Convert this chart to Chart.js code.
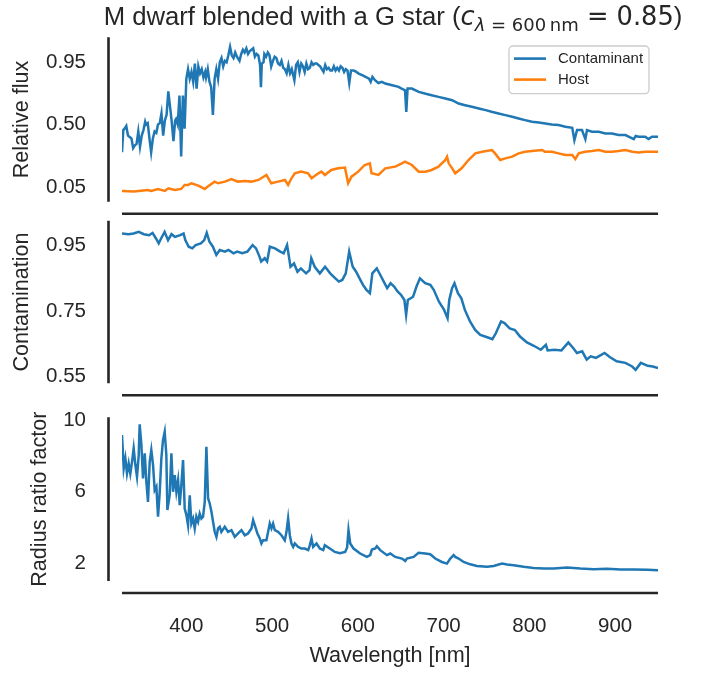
<!DOCTYPE html>
<html><head><meta charset="utf-8">
<script src="https://cdn.jsdelivr.net/npm/chart.js@4"></script>
<style>
html,body{margin:0;padding:0;background:#fff;}
#wrap{position:relative;width:708px;height:675px;}
canvas{position:absolute;left:0;top:0;}
</style></head><body>
<div id="wrap">
<canvas id="c1" width="708" height="675"></canvas>
<canvas id="c2" width="708" height="675"></canvas>
<canvas id="c3" width="708" height="675"></canvas>
</div>
<script>
// ---- data (wavelength [nm], value) ----
const xTicks = [400, 500, 600, 700, 800, 900];
const fluxTicks = [0.05, 0.50, 0.95];
const contamTicks = [0.55, 0.75, 0.95];
const radiusTicks = [2, 6, 10];
const seriesLabels = ['Contaminant', 'Host'];

const contaminantFlux = [[325,0.30],[326.5,0.46],[328,0.47],[330,0.49],[332,0.42],[334,0.41],[336,0.40],[338,0.33],[340,0.35],[342,0.36],[344,0.45],[346,0.34],[348,0.42],[350,0.46],[352,0.52],[353,0.50],[355,0.51],[357,0.40],[359,0.30],[361,0.40],[363,0.45],[365,0.44],[367,0.50],[369,0.51],[371,0.58],[373,0.42],[375,0.53],[377,0.57],[379,0.74],[381,0.63],[383,0.52],[385,0.38],[387,0.53],[388,0.54],[390,0.50],[392,0.71],[394,0.27],[396,0.71],[398,0.47],[400,0.83],[402,0.90],[404,0.83],[406,0.88],[408,0.81],[410,0.94],[412,0.76],[414,0.92],[416,0.87],[418,0.90],[420,0.84],[422,0.88],[423,0.84],[425,0.90],[427,0.81],[429,0.77],[431,0.57],[433,0.83],[435,0.90],[437,0.83],[439,0.95],[441,0.98],[443,0.92],[445,0.96],[447,0.95],[449,1.00],[451,1.06],[453,1.00],[455,0.98],[457,1.02],[459,0.99],[462,0.96],[464,1.01],[466,1.04],[468,1.02],[470,1.05],[472,1.01],[474,1.03],[476,1.04],[478,1.05],[480,0.99],[482,1.01],[484,1.00],[486,0.93],[487,0.77],[488,0.94],[490,0.95],[491,1.01],[493,0.99],[495,1.02],[497,1.00],[499,0.92],[501,0.96],[503,0.99],[505,0.98],[507,0.94],[509,0.93],[511,0.96],[513,0.91],[515,0.90],[517,0.87],[519,0.93],[521,0.87],[523,0.90],[526,0.82],[528,0.93],[530,0.95],[532,0.88],[534,0.94],[536,0.92],[538,0.88],[540,0.94],[542,0.90],[544,0.91],[546,0.95],[548,0.93],[550,0.94],[552,0.94],[554,0.93],[556,0.92],[558,0.90],[560,0.88],[562,0.93],[564,0.90],[566,0.91],[568,0.89],[570,0.89],[572,0.92],[574,0.89],[576,0.91],[578,0.89],[580,0.92],[582,0.91],[584,0.88],[586,0.90],[588,0.89],[590,0.80],[592,0.89],[595,0.89],[597,0.885],[601,0.868],[605,0.856],[609,0.844],[613,0.832],[615,0.808],[617,0.844],[620,0.820],[624,0.80],[628,0.808],[632,0.796],[640,0.784],[647.5,0.772],[651,0.76],[655,0.748],[656.5,0.592],[658,0.76],[663,0.76],[671,0.736],[678,0.724],[686,0.712],[694,0.70],[702,0.688],[710,0.676],[717.5,0.652],[725,0.64],[733,0.628],[741,0.616],[749,0.604],[756,0.592],[764,0.58],[772,0.568],[780,0.556],[787.5,0.544],[795,0.532],[803,0.52],[811,0.515],[818.6,0.508],[826,0.501],[834,0.496],[842,0.484],[850,0.477],[852.5,0.388],[855.6,0.46],[861.4,0.46],[865.3,0.395],[867.2,0.46],[873,0.448],[881,0.448],[888.6,0.436],[896.4,0.436],[904,0.424],[912,0.424],[921.7,0.395],[924,0.418],[927.5,0.412],[935,0.412],[939,0.395],[943,0.412],[950,0.412]];

const hostFlux = [[325,0.021],[339,0.016],[355,0.028],[359,0.021],[367,0.035],[375,0.021],[379,0.040],[386.5,0.028],[394,0.035],[398,0.064],[402,0.064],[406,0.076],[414,0.059],[421.5,0.035],[425,0.052],[433,0.088],[437,0.076],[445,0.088],[452.6,0.107],[460,0.088],[468,0.093],[476,0.088],[484,0.100],[493.4,0.136],[499,0.076],[507,0.088],[515,0.100],[518.7,0.064],[522.6,0.112],[526.5,0.148],[534,0.160],[542,0.148],[546,0.112],[554,0.148],[557.6,0.160],[561.5,0.136],[569,0.172],[577,0.184],[585,0.189],[588.7,0.076],[592.6,0.124],[600.4,0.160],[608,0.208],[614,0.22],[616,0.148],[624,0.136],[632,0.184],[643.6,0.196],[651.4,0.22],[655,0.232],[663,0.208],[671,0.16],[678.6,0.16],[686,0.172],[694,0.196],[702,0.244],[704,0.268],[706,0.22],[710,0.184],[713.6,0.148],[721,0.184],[729,0.244],[737,0.292],[745,0.304],[756.4,0.316],[760,0.292],[766,0.244],[772,0.256],[780,0.268],[787.5,0.292],[795,0.304],[803,0.309],[814.7,0.316],[818,0.304],[826.4,0.304],[834,0.292],[842,0.280],[850,0.280],[853.6,0.251],[857.5,0.292],[865,0.304],[873,0.309],[881,0.316],[888.6,0.304],[896.4,0.304],[904,0.309],[912,0.316],[920,0.304],[927.5,0.299],[935,0.304],[943,0.304],[950,0.304]];

const contamination = [[325,0.985],[332.4,0.983],[338.4,0.985],[344.5,0.990],[350.5,0.983],[356.5,0.980],[360.6,0.987],[364.6,0.970],[367.8,0.955],[370.6,0.970],[374.7,0.990],[378.7,0.965],[382.7,0.983],[386.7,0.975],[392.8,0.980],[396.8,0.985],[398.8,0.965],[402.8,0.945],[406.9,0.940],[410.9,0.950],[416.9,0.955],[420.9,0.965],[423.8,0.987],[427,0.960],[431,0.945],[435,0.920],[439,0.935],[445.1,0.930],[449.1,0.935],[455.1,0.925],[459.2,0.930],[465.2,0.925],[471.2,0.930],[477.3,0.950],[481.3,0.940],[485.3,0.915],[487.3,0.900],[491.4,0.910],[494.2,0.900],[497.4,0.945],[503.4,0.940],[509.5,0.930],[513.5,0.925],[517.5,0.950],[521.5,0.884],[525.6,0.894],[529.6,0.869],[533.6,0.879],[539.6,0.864],[543.7,0.874],[545.7,0.910],[549.7,0.884],[555.7,0.864],[561.8,0.884],[567.8,0.864],[573.8,0.849],[577.9,0.839],[581.9,0.844],[585.9,0.864],[589.9,0.930],[594,0.884],[598,0.869],[602,0.849],[606,0.829],[610,0.814],[614.1,0.804],[616.9,0.864],[622.1,0.879],[626.2,0.859],[630.2,0.839],[634.2,0.819],[638.2,0.834],[642.3,0.824],[646.3,0.809],[650.3,0.799],[654.3,0.783],[656.3,0.738],[658.3,0.783],[664.4,0.793],[668.4,0.824],[672.4,0.849],[678.5,0.834],[684.5,0.829],[688.5,0.814],[694.6,0.778],[700.6,0.753],[704.6,0.728],[706.6,0.783],[709.9,0.819],[712.7,0.834],[716.7,0.804],[720.7,0.788],[724.8,0.753],[730.8,0.718],[736.8,0.692],[742.8,0.677],[750.9,0.670],[756.9,0.664],[760.9,0.682],[767,0.718],[771,0.713],[777.1,0.697],[783.1,0.692],[789.1,0.672],[797.2,0.654],[805.2,0.644],[813.3,0.632],[819.3,0.647],[821.3,0.630],[829.4,0.632],[837.4,0.630],[845.5,0.654],[851.5,0.636],[855.5,0.622],[861.6,0.627],[866.8,0.602],[871.6,0.612],[877.7,0.607],[887.7,0.622],[893.7,0.610],[901.8,0.597],[911.9,0.592],[919.9,0.581],[923.9,0.571],[930,0.592],[938,0.583],[944,0.581],[950,0.576]];

const radiusFactor = [[325,9.16],[327,7.30],[328.9,7.86],[330.8,7.02],[332.8,7.58],[334.7,7.02],[336.7,7.67],[338.6,8.42],[340.6,7.49],[342.5,6.84],[344.5,8.05],[345.6,9.76],[347.6,8.61],[349.5,6.75],[351.5,8.14],[353.4,6.56],[355.3,5.44],[357.3,7.67],[359.2,8.33],[361.2,7.49],[363.1,6.09],[365.1,6.28],[367,4.61],[369,6.00],[370.9,7.86],[372.8,8.88],[374.8,9.35],[376.7,8.05],[377.9,4.98],[380.6,5.81],[382.6,8.14],[384.5,6.00],[386.5,6.93],[388.4,6.00],[390.4,6.65],[392.3,5.26],[394.2,6.37],[396.2,7.77],[398.1,5.07],[400.1,4.70],[402,4.14],[404,5.81],[405.9,4.23],[407.9,4.51],[409.8,3.96],[411.7,4.61],[413.7,4.33],[415.6,4.79],[417.6,4.51],[419.5,4.61],[421.5,5.44],[423.4,8.51],[425.4,5.63],[427.3,5.35],[429.3,4.89],[431.2,4.33],[433.1,3.77],[435.1,3.49],[437,3.96],[439,4.05],[440.9,3.77],[444.8,4.05],[448.7,3.77],[452.6,3.86],[454.5,3.68],[456.5,3.49],[460.4,3.68],[464.3,3.86],[468.2,3.58],[472,3.68],[475.9,3.96],[477.9,4.42],[479.8,4.14],[482.9,3.68],[485.7,3.40],[487.6,3.12],[489.6,3.30],[493.4,3.30],[495.4,3.77],[497.3,4.23],[499.3,3.96],[501.2,4.23],[503.2,3.86],[507,3.77],[510.9,3.58],[514.8,3.30],[516.8,3.77],[518.7,4.51],[520.7,3.58],[522.6,3.12],[524.6,2.93],[526.5,3.12],[530.4,2.93],[534.3,2.84],[538.2,2.84],[542.1,2.75],[544,3.02],[546,3.40],[547.9,2.93],[551.8,3.12],[555.7,2.84],[559.6,2.75],[561.5,3.02],[567.3,2.84],[573.2,2.65],[579,2.58],[585.2,2.65],[587.5,2.90],[589.1,3.86],[591.1,3.12],[595,2.84],[602.7,2.56],[610.5,2.37],[614.4,2.47],[616.4,2.78],[620.3,2.84],[622.2,2.97],[626.1,2.75],[633.9,2.47],[637.8,2.56],[643.6,2.37],[651.4,2.28],[655.3,2.15],[657.2,2.28],[665,2.37],[670.8,2.60],[678.6,2.56],[684.4,2.52],[690.3,2.28],[698,2.09],[703.9,2.00],[707.8,2.28],[711.7,2.47],[713.6,2.37],[717.5,2.28],[723.3,2.09],[731.1,1.96],[738.9,1.87],[750.6,1.82],[758.3,1.87],[768.1,2.00],[773.9,1.95],[781.7,1.91],[793.4,1.82],[805,1.76],[816.7,1.72],[828.4,1.72],[844,1.78],[859.5,1.72],[875,1.69],[890.6,1.71],[906.2,1.67],[921.7,1.67],[937.3,1.65],[950,1.63]];

// ---- styling ----
const BLUE = '#1f77b4', ORANGE = '#ff7f0e', INK = '#262626';
const FAM = '"Liberation Sans", Arial, Helvetica, sans-serif';
const TICK_SIZE = 20.5, LABEL_SIZE = 21.6, LINE_W = 2.5;

const toXY = arr => arr.map(p => ({x: p[0], y: p[1]}));

const spinePlugin = {
  id: 'spines',
  afterDraw(chart) {
    const {ctx, chartArea: a} = chart;
    ctx.save();
    ctx.strokeStyle = INK; ctx.lineWidth = 2.6;
    ctx.beginPath();
    ctx.moveTo(a.left - 13.5, a.top); ctx.lineTo(a.left - 13.5, a.bottom);
    ctx.moveTo(a.left, a.bottom + 12); ctx.lineTo(a.right, a.bottom + 12);
    ctx.stroke();
    ctx.restore();
  }
};

const legendPlugin = {
  id: 'boxLegend',
  afterDraw(chart) {
    const {ctx, chartArea: a} = chart;
    const x0 = a.right - 149, y0 = a.top + 8.7, w = 140, h = 47.6, r = 4;
    ctx.save();
    ctx.beginPath();
    ctx.moveTo(x0 + r, y0); ctx.lineTo(x0 + w - r, y0); ctx.arcTo(x0 + w, y0, x0 + w, y0 + r, r);
    ctx.lineTo(x0 + w, y0 + h - r); ctx.arcTo(x0 + w, y0 + h, x0 + w - r, y0 + h, r);
    ctx.lineTo(x0 + r, y0 + h); ctx.arcTo(x0, y0 + h, x0, y0 + h - r, r);
    ctx.lineTo(x0, y0 + r); ctx.arcTo(x0, y0, x0 + r, y0, r); ctx.closePath();
    ctx.fillStyle = 'rgba(255,255,255,0.8)'; ctx.fill();
    ctx.strokeStyle = '#cccccc'; ctx.lineWidth = 1.3; ctx.stroke();
    chart.data.datasets.forEach((ds, i) => {
      const y = y0 + 12.6 + i * 21;
      ctx.beginPath(); ctx.strokeStyle = ds.borderColor; ctx.lineWidth = 2.6;
      ctx.moveTo(x0 + 5, y); ctx.lineTo(x0 + 37, y); ctx.stroke();
      ctx.fillStyle = INK; ctx.font = '15px ' + FAM; ctx.textBaseline = 'middle'; ctx.textAlign = 'left';
      ctx.fillText(ds.label, x0 + 49, y + 0.5);
    });
    ctx.restore();
  }
};

const titlePlugin = {
  id: 'mathTitle',
  afterDraw(chart) {
    const {ctx, chartArea: a} = chart;
    const parts = [
      {t: 'M dwarf blended with a G star (', f: '25.7px ' + FAM, dy: 0},
      {t: 'c', f: 'oblique 25.7px "DejaVu Sans"', dy: 0},
      {t: 'λ', f: 'oblique 18px "DejaVu Sans"', dy: 5.5},
      {t: ' = 600\u2009nm', f: '18px "DejaVu Sans"', dy: 5.5},
      {t: ' = 0.85', f: '25.7px "DejaVu Sans"', dy: 0},
      {t: ')', f: '25.7px ' + FAM, dy: 0}
    ];
    ctx.save();
    let total = 0;
    parts.forEach(p => { ctx.font = p.f; p.w = ctx.measureText(p.t).width; total += p.w; });
    let x = (a.left + a.right) / 2 + 3 - total / 2;
    const base = 25;
    ctx.fillStyle = INK; ctx.textBaseline = 'alphabetic'; ctx.textAlign = 'left';
    parts.forEach(p => { ctx.font = p.f; ctx.fillText(p.t, x, base + p.dy); x += p.w; });
    ctx.restore();
  }
};

function makePanel(id, datasets, yMin, yMax, yTicks, yTitle, top, bottom, titlePad, showX, decimals, extra) {
  return new Chart(document.getElementById(id), {
    type: 'line',
    data: {datasets},
    options: {
      responsive: false, animation: false, devicePixelRatio: 1,
      layout: {padding: {left: 0, right: 50, top: top, bottom: showX ? 0 : 675 - bottom}},
      plugins: {legend: {display: false}, title: {display: false}, tooltip: {enabled: false}},
      elements: {point: {radius: 0}, line: {borderWidth: LINE_W, tension: 0}},
      scales: {
        x: {
          type: 'linear', min: 325, max: 950, display: showX,
          grid: {display: false, drawTicks: false}, border: {display: false},
          afterBuildTicks: s => { s.ticks = xTicks.map(v => ({value: v})); },
          ticks: {padding: 32.7, color: INK, font: {family: FAM, size: TICK_SIZE}, maxRotation: 0, autoSkip: false},
          title: {display: true, text: 'Wavelength [nm]', color: INK, font: {family: FAM, size: LABEL_SIZE}, padding: {top: 0, bottom: 6}},
          afterFit: s => { s.height = showX ? 94 : 0; s.paddingLeft = 0; s.paddingRight = 0; }
        },
        y: {
          min: yMin, max: yMax,
          grid: {display: false, drawTicks: false}, border: {display: false},
          afterBuildTicks: s => { s.ticks = yTicks.map(v => ({value: v})); },
          ticks: {padding: 36, color: INK, font: {family: FAM, size: TICK_SIZE},
                  callback: v => decimals ? Number(v).toFixed(2) : String(v)},
          title: {display: true, text: yTitle, color: INK, font: {family: FAM, size: LABEL_SIZE}, padding: {top: titlePad, bottom: 0}},
          afterFit: s => { s.width = 122; s.paddingTop = 0; s.paddingBottom = 0; }
        }
      }
    },
    plugins: [spinePlugin].concat(extra || [])
  });
}

const lineDs = (label, arr, color) => ({label, data: toXY(arr), borderColor: color, backgroundColor: color, fill: false, borderWidth: LINE_W, pointRadius: 0});

makePanel('c1', [lineDs(seriesLabels[0], contaminantFlux, BLUE), lineDs(seriesLabels[1], hostFlux, ORANGE)],
  -0.057, 1.13, fluxTicks, 'Relative flux', 37.3, 201.7, 9, false, true, [legendPlugin, titlePlugin]);
makePanel('c2', [lineDs('Contamination', contamination, BLUE)],
  0.530, 1.024, contamTicks, 'Contamination', 220.7, 383.3, 9, false, true);
makePanel('c3', [lineDs('Radius ratio factor', radiusFactor, BLUE)],
  1.03, 10.15, radiusTicks, 'Radius ratio factor', 417.3, 581, 27, true, false);
</script>
</body></html>
